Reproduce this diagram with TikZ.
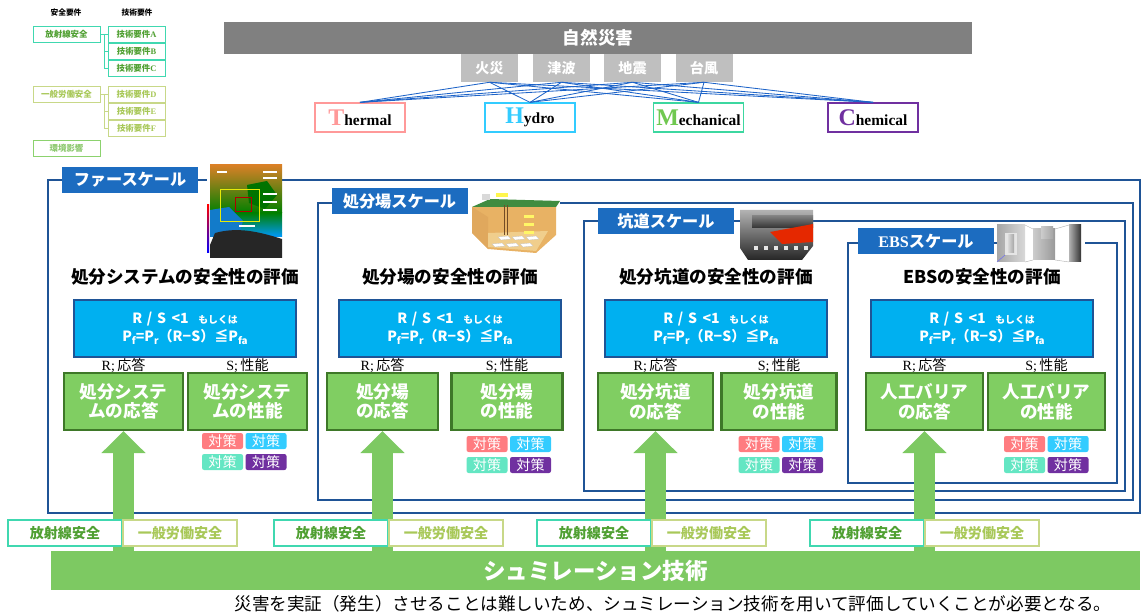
\documentclass[tikz,border=0pt]{standalone}
\usepackage{fontspec}
\setmainfont{Noto Sans CJK JP}
\newfontfamily\serifl{Liberation Serif}
\usetikzlibrary{arrows.meta,positioning}
\definecolor{navy}{RGB}{31,84,150}
\definecolor{tabblue}{RGB}{28,108,192}
\definecolor{sky}{RGB}{0,176,240}
\definecolor{leafbox}{RGB}{128,206,98}
\definecolor{leafdark}{RGB}{62,120,40}
\definecolor{simgreen}{RGB}{125,201,98}
\definecolor{natgray}{RGB}{128,128,128}
\definecolor{hazgray}{RGB}{191,191,191}
\definecolor{linkblue}{RGB}{30,100,200}
\definecolor{thpink}{RGB}{255,153,153}
\definecolor{hycyan}{RGB}{51,204,255}
\definecolor{megreen}{RGB}{112,200,80}
\definecolor{meborder}{RGB}{60,215,160}
\definecolor{chpurple}{RGB}{112,48,160}
\definecolor{tagpink}{RGB}{255,124,128}
\definecolor{tagcyan}{RGB}{51,204,255}
\definecolor{tagmint}{RGB}{100,230,195}
\definecolor{radline}{RGB}{64,216,176}
\definecolor{radtext}{RGB}{80,160,50}
\definecolor{genline}{RGB}{200,216,136}
\definecolor{gentext}{RGB}{168,200,88}
\definecolor{envline}{RGB}{140,210,110}
\definecolor{envtext}{RGB}{140,200,110}
\definecolor{sand}{RGB}{232,178,100}
\definecolor{sandlight}{RGB}{240,206,140}
\newcommand\pxl{0.025cm}
\newcommand\lowidx[1]{\raisebox{-0.4ex}{\fontsize{7}{7}\selectfont #1}}
\newcommand\bigletter[2]{\textcolor{#1}{\fontsize{17}{17}\selectfont #2}}
\tikzset{
  leg/.style={draw=#1,line width=0.6pt,fill=white,minimum width=67*\pxl,minimum height=16*\pxl,
    font=\fontsize{6}{7}\selectfont\bfseries,inner sep=0pt},
  legreq/.style={leg=#1,minimum width=57*\pxl},
  legwire/.style={draw=#1,line width=0.6pt},
  nat/.style={fill=natgray,text=white,font=\fontsize{12.5}{14}\selectfont\bfseries,
    minimum width=748*\pxl,minimum height=32*\pxl,inner sep=0pt},
  hazard/.style={fill=hazgray,text=white,font=\fontsize{10}{12}\selectfont\bfseries,
    minimum width=57*\pxl,minimum height=28*\pxl,inner sep=0pt},
  thmc/.style={draw=#1,line width=0.9pt,fill=white,minimum width=90*\pxl,minimum height=29*\pxl,
    font=\serifl\bfseries\fontsize{11}{12}\selectfont,inner sep=0pt},
  link/.style={draw=linkblue,line width=0.6pt},
  frame/.style={draw=navy,line width=1.4pt},
  scaletab/.style={fill=tabblue,text=white,font=\fontsize{11.5}{13}\selectfont\bfseries,
    minimum width=136*\pxl,minimum height=26*\pxl,inner sep=0pt},
  evaltitle/.style={font=\fontsize{12.5}{14}\selectfont\bfseries},
  formula/.style={fill=sky,draw=navy,line width=1.6pt,text=white,minimum width=222*\pxl,
    minimum height=57*\pxl,align=center,font=\fontsize{10}{13}\selectfont\bfseries,inner sep=0pt},
  rslabel/.style={font=\fontsize{10}{12}\selectfont},
  target/.style={fill=leafbox,draw=leafdark,line width=1.6pt,text=white,minimum width=#1*\pxl,
    minimum height=57*\pxl,align=center,font=\fontsize{12.5}{14}\selectfont\bfseries,inner sep=0pt},
  measure/.style={fill=#1,text=white,rounded corners=1.5pt,minimum width=41*\pxl,
    minimum height=16*\pxl,font=\fontsize{10}{11}\selectfont,inner sep=0pt},
  uparrow/.style={draw=simgreen,line width=0.525cm,-{Triangle[width=1.075cm,length=0.55cm]}},
  radsafe/.style={draw=radline,line width=0.8pt,fill=white,text=radtext,minimum width=114*\pxl,
    minimum height=26*\pxl,font=\fontsize{10}{12}\selectfont\bfseries,inner sep=0pt},
  gensafe/.style={radsafe,draw=genline,text=gentext},
  simbar/.style={fill=simgreen,text=white,minimum width=1089*\pxl,minimum height=39*\pxl,
    font=\fontsize{16}{18}\selectfont\bfseries,inner sep=0pt},
  note/.style={font=\fontsize{12.5}{14}\selectfont},
  % pictograms
  pics/farmap/.style={code={
    \fill[white] (0,0) rectangle (75,93);
    \shade[top color=brown!60!orange,bottom color=green!50!black] (3,0) rectangle (75,48);
    \shade[top color=green!50!black,bottom color=cyan!60!blue] (3,48) rectangle (75,72);
    \fill[cyan!60!blue] (3,45) -- (22,42) -- (36,56) -- (32,70) -- (3,72) -- cycle;
    \fill[green!45!black] (40,20) -- (60,16) -- (70,30) -- (58,44) -- (42,38) -- cycle;
    \fill[black!85] (8,68) .. controls (30,62) and (50,66) .. (75,74) -- (75,93) -- (3,93) -- (3,80) -- cycle;
    \draw[yellow!90!green,line width=0.4pt] (13,24) rectangle (52,56);
    \draw[red!70!black,line width=0.3pt] (28,32) rectangle (44,46);
    \foreach \y in {6,12,28,36,44} \fill[white] (56,\y) rectangle (70,\y+2);
    \fill[white] (32,60) rectangle (48,62);
    \fill[white] (10,6) rectangle (20,8);
    \shade[top color=red,bottom color=blue] (0,40) rectangle (2,88);
  }},
  pics/siteimg/.style={code={
    \fill[white] (0,0) rectangle (92,60);
    \fill[sand] (4,14) -- (88,14) -- (88,42) -- (68,60) -- (20,56) -- (4,40) -- cycle;
    \fill[sand!80!brown] (4,14) -- (20,24) -- (20,56) -- (4,40) -- cycle;
    \fill[sandlight] (20,40) -- (80,38) -- (68,58) -- (20,54) -- cycle;
    \fill[green!40!black!75] (4,14) -- (22,6) -- (92,8) -- (88,14) -- cycle;
    \fill[gray!30] (14,1) rectangle (22,7);
    \fill[yellow!70] (28,0) rectangle (40,4);
    \draw[brown!60!black,line width=0.3pt] (36,12) -- (36,42) (39,12) -- (39,42);
    \foreach \i in {0,1,2} \foreach \j in {0,1}
      \fill[white,draw=gray!50,line width=0.2pt] (30+\i*14-\j*6,44+\j*7) -- ++(10,-1) -- ++(3,3) -- ++(-10,1) -- cycle;
    \foreach \y in {22,30,38} \fill[yellow!60] (56,\y) rectangle (66,\y+3);
  }},
  pics/tunnelimg/.style={code={
    \fill[white] (0,0) rectangle (73,50);
    \shade[top color=gray!60,bottom color=black!85] (0,0) -- (73,0) -- (73,36) -- (62,50) -- (8,50) -- (0,38) -- cycle;
    \shade[top color=black!50,bottom color=black!80] (12,6) rectangle (73,18);
    \fill[red!65!orange!90!black] (30,22) -- (73,14) -- (73,32) -- (42,34) -- cycle;
    \foreach \x in {14,24,...,64} \fill[white!80!gray] (\x,36) rectangle (\x+4,40);
  }},
  pics/ebsimg/.style={code={
    \fill[white] (0,0) rectangle (88,37);
    \shade[left color=gray!70,right color=gray!30] (0,0) rectangle (28,37);
    \fill[gray!20] (8,8) rectangle (20,30);
    \shade[left color=gray!30,right color=gray!70] (11,10) rectangle (17,28);
    \draw[blue!60,line width=0.3pt] (0,37) -- (8,30);
    \draw[gray!60,line width=0.3pt] (28,0) -- (36,4) (28,37) -- (36,35) (58,4) -- (72,0) (58,35) -- (72,37);
    \shade[left color=gray!40,right color=gray!80] (36,4) rectangle (58,35);
    \shade[left color=gray!40,right color=gray!70] (44,2) rectangle (56,14);
    \shade[left color=gray!60,right color=black!80] (72,0) rectangle (84,37);
  }},
}

\begin{document}
\begin{tikzpicture}[x=0.025cm,y=-0.025cm]
  \useasboundingbox (0,0) rectangle (1142,615);

  % requirement legend
  \node[font=\fontsize{5.5}{7}\selectfont\bfseries] (hdsafe) at (66,13) {安全要件};
  \node[font=\fontsize{5.5}{7}\selectfont\bfseries] (hdtech) at (137,13) {技術要件};
  \node[leg=radline,text=radtext] (rad0) at (66.5,34) {放射線安全};
  \node[leg=genline,text=gentext] (gen0) at (66.5,94) {一般労働安全};
  \node[leg=envline,text=envtext] (env0) at (66.5,148.5) {環境影響};
  \foreach \k/\y in {A/34,B/51,C/68.5}
    \node[legreq=radline,text=radtext] (req\k) at (136.5,\y) {技術要件{\serifl\k}};
  \foreach \k/\y in {D/94,E/111,F/128.5}
    \node[legreq=genline,text=gentext] (req\k) at (136.5,\y) {技術要件{\serifl\k}};
  \draw[legwire=radline] (rad0.east) -- (reqA.west);
  \foreach \k in {B,C} \draw[legwire=radline] (rad0.east) -- ++(4,0) |- (req\k.west);
  \draw[legwire=genline] (gen0.east) -- (reqD.west);
  \foreach \k in {E,F} \draw[legwire=genline] (gen0.east) -- ++(4,0) |- (req\k.west);

  % hazards and THMC
  \node[nat] (nat) at (598,38) {自然災害};
  \foreach \n/\x/\t in {fire/489.5/火災,tsunami/561.5/津波,quake/632.5/地震,typhoon/704/台風}
    \node[hazard] (\n) at (\x,68) {\t};
  \node[thmc=thpink] (thermal) at (360,117.5) {\bigletter{thpink}{T}hermal};
  \node[thmc=hycyan] (hydro) at (530,117.5) {\bigletter{hycyan}{H}ydro};
  \node[thmc=meborder] (mech) at (698.5,117.5) {\bigletter{megreen}{M}echanical};
  \node[thmc=chpurple] (chem) at (873,117.5) {\bigletter{chpurple}{C}hemical};
  \foreach \h in {fire,tsunami,quake,typhoon}
    \foreach \m in {thermal,hydro,mech,chem}
      \draw[link] (\h.south) -- (\m.north);

  % nested scales
  \draw[frame] (48,180) rectangle (1140,513);
  \draw[frame] (318,203) rectangle (1133,500);
  \draw[frame] (584,221) rectangle (1125,491);
  \draw[frame] (848,243) rectangle (1117,483);
  \pic at (207,165) {farmap};
  \pic at (468,193) {siteimg};
  \pic at (740,210) {tunnelimg};
  \pic at (997,225) {ebsimg};
  \node[scaletab] (far-tab) at (130,180) {ファースケール};
  \node[scaletab] (site-tab) at (399.5,201.5) {処分場スケール};
  \node[scaletab] (tun-tab) at (666,221.5) {坑道スケール};
  \node[scaletab] (ebs-tab) at (926,241.5) {{\serifl\bfseries EBS}スケール};

  \foreach \n/\x/\t in {far/185/処分システムの安全性の評価,site/450/処分場の安全性の評価,
      tun/716/処分坑道の安全性の評価,ebs/982/EBSの安全性の評価}{
    \node[evaltitle] (\n-title) at (\x,277) {\t};
    \node[formula] (\n-rs) at (\x,328.5)
      {R\,\,/\,\,S\ \,<1\ \ \ {\fontsize{7}{8}\selectfont もしくは}\\P\lowidx{f}=P\lowidx{r}（R−S）≦P\lowidx{fa}};
  }
  \foreach \n/\a/\b/\w/\ra/\pa in {
      far/123.5/247.5/119/{処分システ\\ムの応答}/{処分システ\\ムの性能},
      site/382.5/507/111/{処分場\\の応答}/{処分場\\の性能},
      tun/655.5/779/115/{処分坑道\\の応答}/{処分坑道\\の性能},
      ebs/924.5/1046.5/117/{人工バリア\\の応答}/{人工バリア\\の性能}}{
    \node[rslabel] (\n-rl) at (\a,366) {{\serifl R;\,}応答};
    \node[rslabel] (\n-sl) at (\b,366) {{\serifl S;\,}性能};
    \node[target=\w] (\n-resp) at (\a,401.5) {\ra};
    \node[target=\w] (\n-perf) at (\b,401.5) {\pa};
  }
  \foreach \n/\x/\y in {far/222.5/441,site/487/444,tun/759/444,ebs/1024.5/444}{
    \node[measure=tagpink] (\n-m1) at (\x,\y) {対策};
    \node[measure=tagcyan] (\n-m2) at (\x+43.5,\y) {対策};
    \node[measure=tagmint] (\n-m3) at (\x,\y+21) {対策};
    \node[measure=chpurple] (\n-m4) at (\x+43.5,\y+21) {対策};
  }

  % simulation base
  \node[simbar] (sim) at (595.5,570.5) {シュミレーション技術};
  \foreach \n in {far,site,tun,ebs}
    \draw[uparrow] (sim.north -| \n-resp.south) -- (\n-resp.south);
  \foreach \i/\x in {1/65,2/331,3/594,4/867}{
    \node[radsafe] (rad\i) at (\x,533) {放射線安全};
    \node[gensafe] (gen\i) at (\x+115,533) {一般労働安全};
  }
  \node[note] (note) at (673,604) {災害を実証（発生）させることは難しいため、シュミレーション技術を用いて評価していくことが必要となる。};
\end{tikzpicture}
\end{document}
